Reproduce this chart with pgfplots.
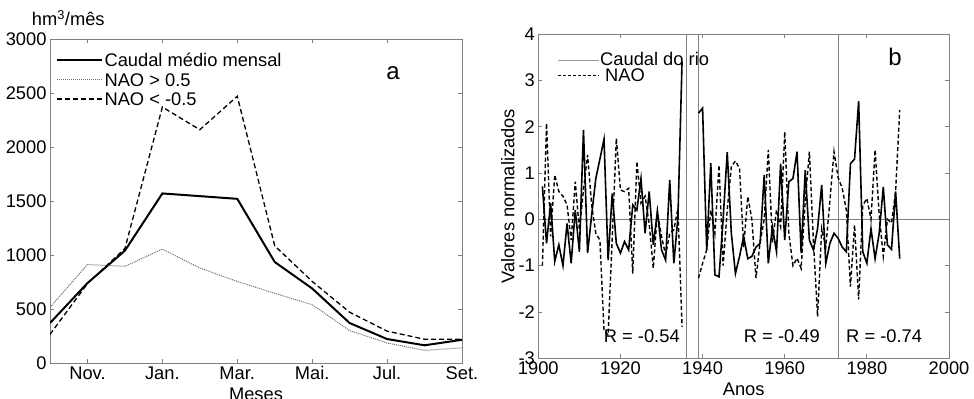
\documentclass[border=0pt]{standalone}
\usepackage{pgfplots}
\pgfplotsset{compat=1.18}
\usepackage{fontspec}
\setmainfont{Liberation Sans}
\definecolor{axgray}{RGB}{128,128,128}
\definecolor{dotgray}{RGB}{110,110,110}
\newcommand{\fs}{\fontsize{18.3bp}{20bp}\selectfont}
\newcommand{\fbig}{\fontsize{24bp}{26bp}\selectfont}
\pgfplotsset{
  myaxis/.style={
    scale only axis,
    clip mode=individual,
    axis line style={axgray, line width=0.8bp},
    tick style={axgray, line width=0.8bp},
    major tick length=4bp,
    tick align=inside,
    ticklabel style={font=\fs},
    /pgf/number format/assume math mode=true,
    /pgf/number format/1000 sep={},
    label style={font=\fs},
    unbounded coords=jump,
  }
}
\pgfplotstableread{
m caudal naopos naoneg
1  370  515  265
2  740  912  735
3  1040 895  1060
4  1570 1055 2370
5  1545 880  2160
6  1520 755  2470
7  935  645  1085
8  690  540  755
9  370  300  470
10 222  185  295
11 164  117  220
12 215  140  220
}\monthly
\pgfplotstableread{
yr caudal nao
1901 0.71 -1.00
1902 -0.52 2.07
1903 0.35 -0.37
1904 -0.91 0.96
1905 -0.55 0.60
1906 -1.00 0.50
1907 -0.09 0.31
1908 -0.95 -0.45
1909 0.20 0.81
1910 -0.70 -0.23
1911 1.93 0.63
1912 -0.73 1.39
1913 0.10 0.30
1914 0.88 -0.30
1915 1.30 -0.45
1916 1.73 -2.40
1917 -0.88 -2.50
1918 0.56 -0.40
1919 -0.52 1.75
1920 -0.73 0.63
1921 -0.48 0.60
1922 -0.66 0.67
1923 0.31 -1.17
1924 0.20 1.25
1925 0.88 0.35
1926 -0.30 0.50
1927 0.60 -0.10
1928 -0.55 -1.06
1929 0.17 0.17
1930 -0.66 -0.37
1931 -0.88 -0.77
1932 0.85 -0.30
1933 -0.95 -0.23
1934 0.05 0.24
1935 3.40 -2.32
1937 nan nan
1939 2.29 -1.27
1940 2.40 -0.95
1941 -0.66 -0.66
1942 1.21 0.20
1943 -1.20 -0.30
1944 -1.24 1.17
1945 0.00 -1.00
1946 1.45 0.20
1947 -0.30 1.14
1948 -1.17 1.26
1949 -0.80 1.10
1950 -0.37 -0.60
1951 -0.85 0.49
1952 -0.80 0.00
1953 -0.60 -1.27
1954 -0.52 -0.50
1955 0.96 0.00
1956 -0.95 1.50
1957 -0.16 -0.50
1958 -0.70 0.20
1959 1.20 -0.16
1960 -0.45 1.89
1961 0.81 -0.30
1962 0.88 -1.00
1963 1.46 -0.84
1964 -0.73 -1.06
1965 1.06 0.40
1966 -0.45 1.46
1967 -0.66 -0.50
1968 -0.20 -2.10
1969 0.74 -0.20
1970 -0.95 -0.60
1971 -0.52 0.40
1972 -0.30 1.46
1973 -0.41 0.90
1974 -0.60 0.67
1975 -0.70 0.20
1976 1.20 -1.45
1977 1.30 -0.12
1978 2.55 -1.73
1979 -0.70 0.30
1980 -0.95 0.45
1981 -0.20 0.00
1982 -0.85 1.50
1983 -0.30 0.10
1984 0.70 -0.80
1985 -0.55 0.00
1986 -0.65 -0.08
1987 0.60 0.60
1988 -0.85 2.36
}\annual
\begin{document}
\begin{tikzpicture}
\path[use as bounding box] (0,0) rectangle (974bp,399bp);
\begin{axis}[myaxis, at={(50bp,36bp)}, anchor=south west, width=412bp, height=324bp,
  xmin=1, xmax=12, ymin=0, ymax=3000,
  xtick={2,4,6,8,10,12}, xticklabels={Nov.,Jan.,Mar.,Mai.,Jul.,Set.},
  ytick={0,500,...,3000},
  xlabel={Meses}, xlabel style={at={(axis description cs:0.5,0)}, anchor=base, yshift=-37bp},
  legend style={draw=none, fill=none, at={(0.015,0.9654)}, anchor=north west, inner sep=0pt, font=\fs, cells={anchor=west}, nodes={inner sep=1.8bp}},
  legend image code/.code={\draw[#1] (0bp,0bp) -- (39bp,0bp); \path (0bp,0bp) -- (44.4bp,0bp);},
]
\addplot[black, line width=2bp] table[x=m, y=caudal] {\monthly};
\addlegendentry{\rule[-3bp]{0pt}{17.4bp}Caudal médio mensal}
\addplot[dotgray, line width=1bp, dash pattern=on 1bp off 1bp] table[x=m, y=naopos] {\monthly};
\addlegendentry{\rule[-3bp]{0pt}{17.4bp}NAO > 0.5}
\addplot[black, line width=1.3bp, dash pattern=on 5bp off 3bp] table[x=m, y=naoneg] {\monthly};
\addlegendentry{\rule[-3bp]{0pt}{17.4bp}NAO < -0.5}
\node[font=\fbig] at (axis description cs:0.8325,0.8935) {a};
\end{axis}
\node[font=\fs, anchor=base west, inner sep=0pt] at (31.7bp,373bp) {hm\textsuperscript{3}/mês};
\begin{axis}[myaxis, at={(538.3bp,40.7bp)}, anchor=south west, width=410.7bp, height=324.3bp,
  xmin=1900, xmax=2000, ymin=-3, ymax=4,
  xtick={1900,1920,...,2000}, ytick={-3,-2,...,4},
  xlabel={Anos}, xlabel style={at={(axis description cs:0.5,0)}, anchor=base, yshift=-37.7bp},
  ylabel={Valores normalizados}, ylabel style={at={(axis description cs:-0.074,0.5)}, anchor=center},
  legend style={draw=none, fill=none, at={(0.0467,0.9445)}, anchor=north west, inner sep=0pt, font=\fs, cells={anchor=west}, nodes={inner sep=0.5bp}},
  legend image code/.code={\draw[#1] (0bp,0bp) -- (30bp,0bp); \path (0bp,0bp) -- (41bp,0bp);},
]
\addlegendimage{axgray!80, line width=1bp}
\addlegendentry{\rule[-1.8bp]{0pt}{15bp}Caudal do rio}
\addlegendimage{black, line width=0.8bp, dash pattern=on 3bp off 2bp}
\addlegendentry{\rule[-1.8bp]{0pt}{15bp}\hspace*{5bp}NAO}
\addplot[axgray, line width=0.8bp, forget plot] coordinates {(1900,0) (2000,0)};
\addplot[axgray, line width=0.8bp, forget plot] coordinates {(1936,-3) (1936,4)};
\addplot[axgray, line width=0.8bp, forget plot] coordinates {(1939,-3) (1939,4)};
\addplot[axgray, line width=0.8bp, forget plot] coordinates {(1973,-3) (1973,4)};
\addplot[black, line width=1.4bp, dash pattern=on 4bp off 2.5bp, forget plot] table[x=yr, y=nao] {\annual};
\addplot[black, line width=1.6bp, forget plot] table[x=yr, y=caudal] {\annual};
\node[font=\fs] at (axis cs:1925.2,-2.52) {R = -0.54};
\node[font=\fs] at (axis cs:1959.3,-2.52) {R = -0.49};
\node[font=\fs] at (axis cs:1984.2,-2.52) {R = -0.74};
\node[font=\fbig] at (axis description cs:0.8685,0.929) {b};
\end{axis}
\end{tikzpicture}
\end{document}
